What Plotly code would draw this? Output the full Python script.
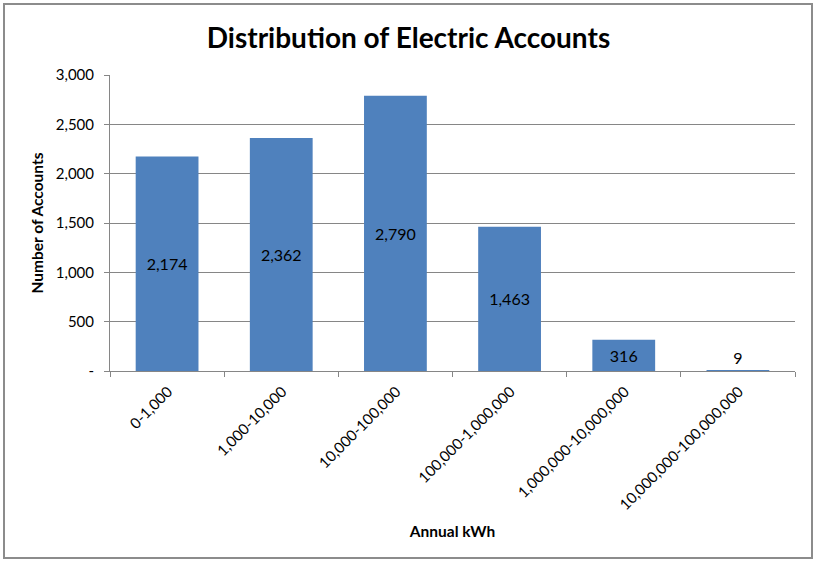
import plotly.graph_objects as go

categories = ["0-1,000", "1,000-10,000", "10,000-100,000", "100,000-1,000,000",
              "1,000,000-10,000,000", "10,000,000-100,000,000"]
accounts = [2174, 2362, 2790, 1463, 316, 9]
ytick_vals = [0, 500, 1000, 1500, 2000, 2500, 3000]
ytick_text = ["-", "500", "1,000", "1,500", "2,000", "2,500", "3,000"]

W, H = 817, 562
L, R, T, B = 110, 22, 75, 191
pw, ph = W - L - R, H - T - B

positions = ["inside" if v > 100 else "outside" for v in accounts]

fig = go.Figure(go.Bar(
    x=categories, y=accounts,
    marker=dict(color="#4F81BD", line=dict(width=0)),
    width=0.55,
    text=[f"{v:,}" for v in accounts],
    textposition=positions,
    insidetextanchor="middle",
    textangle=0,
    textfont=dict(family="Lato", size=16, color="black"),
    constraintext="none",
    cliponaxis=False,
))

def px(x): return (x - L) / pw
def py(y): return (H - B - y) / ph

fig.add_shape(type="rect", xref="paper", yref="paper",
              x0=px(4), x1=px(812), y0=py(4), y1=py(558),
              line=dict(color="#8c8c8c", width=2))

fig.update_layout(
    width=W, height=H,
    margin=dict(l=L, r=R, t=T, b=B, autoexpand=False),
    paper_bgcolor="white", plot_bgcolor="white",
    showlegend=False,
    title=dict(text="<b>Distribution of Electric Accounts</b>",
               x=0.5, xanchor="center", y=1 - 38 / H, yanchor="middle",
               font=dict(family="Lato", size=28, color="black")),
    font=dict(family="Lato", color="black"),
    xaxis=dict(
        type="category", tickangle=-45, tickson="boundaries",
        ticks="outside", ticklen=5, tickcolor="#868686",
        showline=True, linecolor="#868686", linewidth=1,
        showgrid=False, automargin=False,
        ticklabelshift=1, ticklabelstandoff=5,
        tickfont=dict(family="Lato", size=15, color="black"),
        title=dict(text="<b>Annual kWh</b>", standoff=14,
                   font=dict(family="Lato", size=15.5, color="black")),
    ),
    yaxis=dict(
        range=[0, 3000], tickvals=ytick_vals, ticktext=ytick_text,
        ticks="outside", ticklen=5, tickcolor="#868686",
        showline=True, linecolor="#868686", linewidth=1,
        showgrid=True, gridcolor="#868686", gridwidth=1,
        zeroline=False, automargin=False, ticklabelstandoff=7,
        tickfont=dict(family="Lato", size=15, color="black"),
        title=dict(text="<b>Number of Accounts</b>", standoff=8,
                   font=dict(family="Lato", size=15.5, color="black")),
    ),
    bargap=0.45,
)

fig.write_html("out.html", config={"displayModeBar": False},
               post_script="document.body.style.margin='0';document.body.style.overflow='hidden';")
